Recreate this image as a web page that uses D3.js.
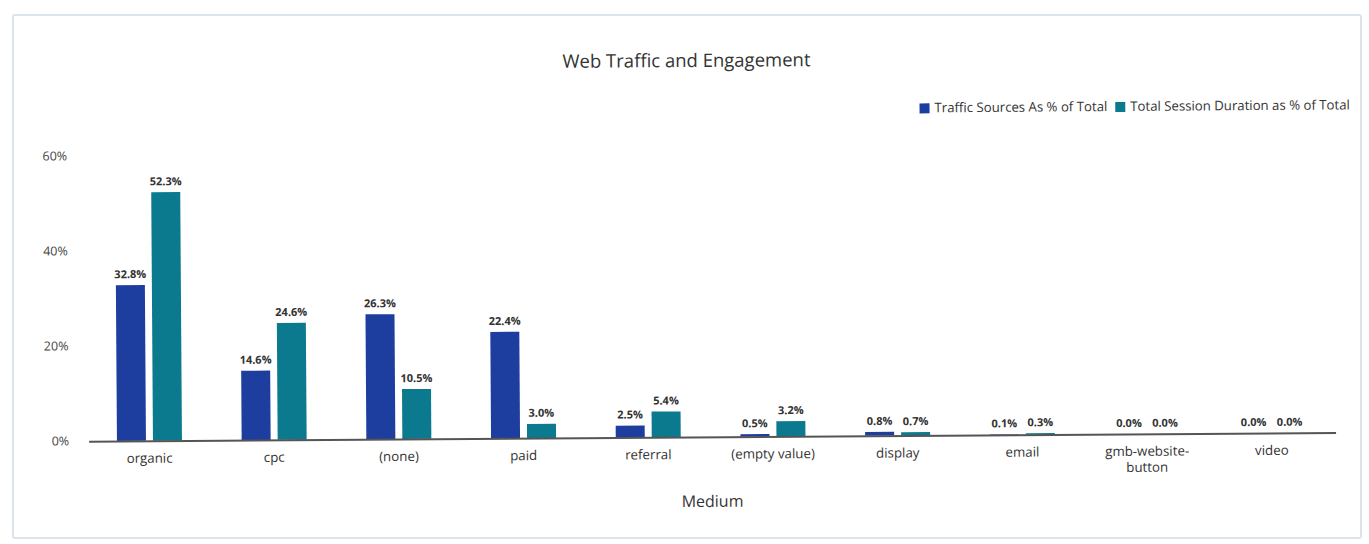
<!DOCTYPE html>
<html>
<head>
<meta charset="utf-8">
<script src="https://cdn.jsdelivr.net/npm/d3@7"></script>
<style>
  html, body { margin: 0; padding: 0; background: #ffffff; }
  svg { display: block; font-family: "Open Sans", "Noto Sans", sans-serif; }
</style>
</head>
<body>
<svg id="chart" width="1369" height="544"></svg>
<script>
// Traffic mediums and the two shares per medium (percent)
const categories = ["organic", "cpc", "(none)", "paid", "referral", "(empty value)", "display", "email", "gmb-website-button", "video"];
const trafficShare = [32.8, 14.6, 26.3, 22.4, 2.5, 0.5, 0.8, 0.1, 0.0, 0.0];
const sessionShare = [52.3, 24.6, 10.5, 3.0, 5.4, 3.2, 0.7, 0.3, 0.0, 0.0];
const seriesNames = ["Traffic Sources As % of Total", "Total Session Duration as % of Total"];
const yTicks = [0, 20, 40, 60];
const colors = ["#1d3e9e", "#0b7a8e"];

const svg = d3.select("#chart");

// outer frame of the card
svg.append("rect")
  .attr("x", 13).attr("y", 15).attr("width", 1348).attr("height", 523)
  .attr("fill", "#fff").attr("stroke", "#dbe4ea").attr("stroke-width", 2).attr("rx", 2);

const g = svg.append("g").attr("transform", "rotate(-0.4, 688, 280)");

const x0 = d3.scaleBand().domain(categories).range([86, 1333]).paddingInner(0).paddingOuter(0);
const y = d3.scaleLinear().domain([0, 60]).range([437, 152]);

const barW = 29, gap = 7;

// title
g.append("text").attr("x", 688).attr("y", 67).attr("text-anchor", "middle")
  .attr("font-size", 18.5).attr("fill", "#333").text("Web Traffic and Engagement");

// legend (right aligned)
const legend = g.append("g");
let lx = 1351;
for (let i = seriesNames.length - 1; i >= 0; i--) {
  const t = legend.append("text").attr("y", 114).attr("font-size", 13.2).attr("fill", "#333").text(seriesNames[i]);
  const w = t.node().getComputedTextLength();
  t.attr("x", lx - w);
  legend.append("rect").attr("x", lx - w - 15).attr("y", 105).attr("width", 10).attr("height", 10).attr("fill", colors[i]);
  lx = lx - w - 23;
}

// y axis labels
g.selectAll(".ytick").data(yTicks).join("text")
  .attr("class", "ytick")
  .attr("x", 68).attr("y", d => y(d) + 4)
  .attr("text-anchor", "end").attr("font-size", 12.5).attr("fill", "#444")
  .text(d => d + "%");

// bars
const series = [trafficShare, sessionShare];
series.forEach((vals, si) => {
  const grp = g.append("g");
  grp.selectAll("rect").data(vals).join("rect")
    .attr("x", (d, i) => x0(categories[i]) + x0.bandwidth() / 2 + (si === 0 ? -gap / 2 - barW : gap / 2))
    .attr("y", d => y(d))
    .attr("width", barW)
    .attr("height", d => y(0) - y(d))
    .attr("fill", colors[si]);
  grp.selectAll("text").data(vals).join("text")
    .attr("x", (d, i) => x0(categories[i]) + x0.bandwidth() / 2 + (si === 0 ? -gap / 2 - barW / 2 : gap / 2 + barW / 2))
    .attr("y", d => y(d) - 7)
    .attr("text-anchor", "middle").attr("font-size", 11).attr("font-weight", "bold").attr("fill", "#333")
    .text(d => d.toFixed(1) + "%");
});

// baseline
g.append("line").attr("x1", 88).attr("x2", 1335).attr("y1", y(0) + 0.5).attr("y2", y(0) + 0.5)
  .attr("stroke", "#555").attr("stroke-width", 2);

// category labels (long ones wrap after the hyphen)
const catLabels = {"gmb-website-button": ["gmb-website-", "button"]};
categories.forEach(c => {
  const lines = catLabels[c] || [c];
  const t = g.append("text").attr("x", x0(c) + x0.bandwidth() / 2).attr("y", 459)
    .attr("text-anchor", "middle").attr("font-size", 13.3).attr("fill", "#333");
  lines.forEach((ln, k) => {
    t.append("tspan").attr("x", x0(c) + x0.bandwidth() / 2).attr("dy", k === 0 ? 0 : 16).text(ln);
  });
});

// x axis title
g.append("text").attr("x", 711).attr("y", 507).attr("text-anchor", "middle")
  .attr("font-size", 16).attr("fill", "#333").text("Medium");
</script>
</body>
</html>
